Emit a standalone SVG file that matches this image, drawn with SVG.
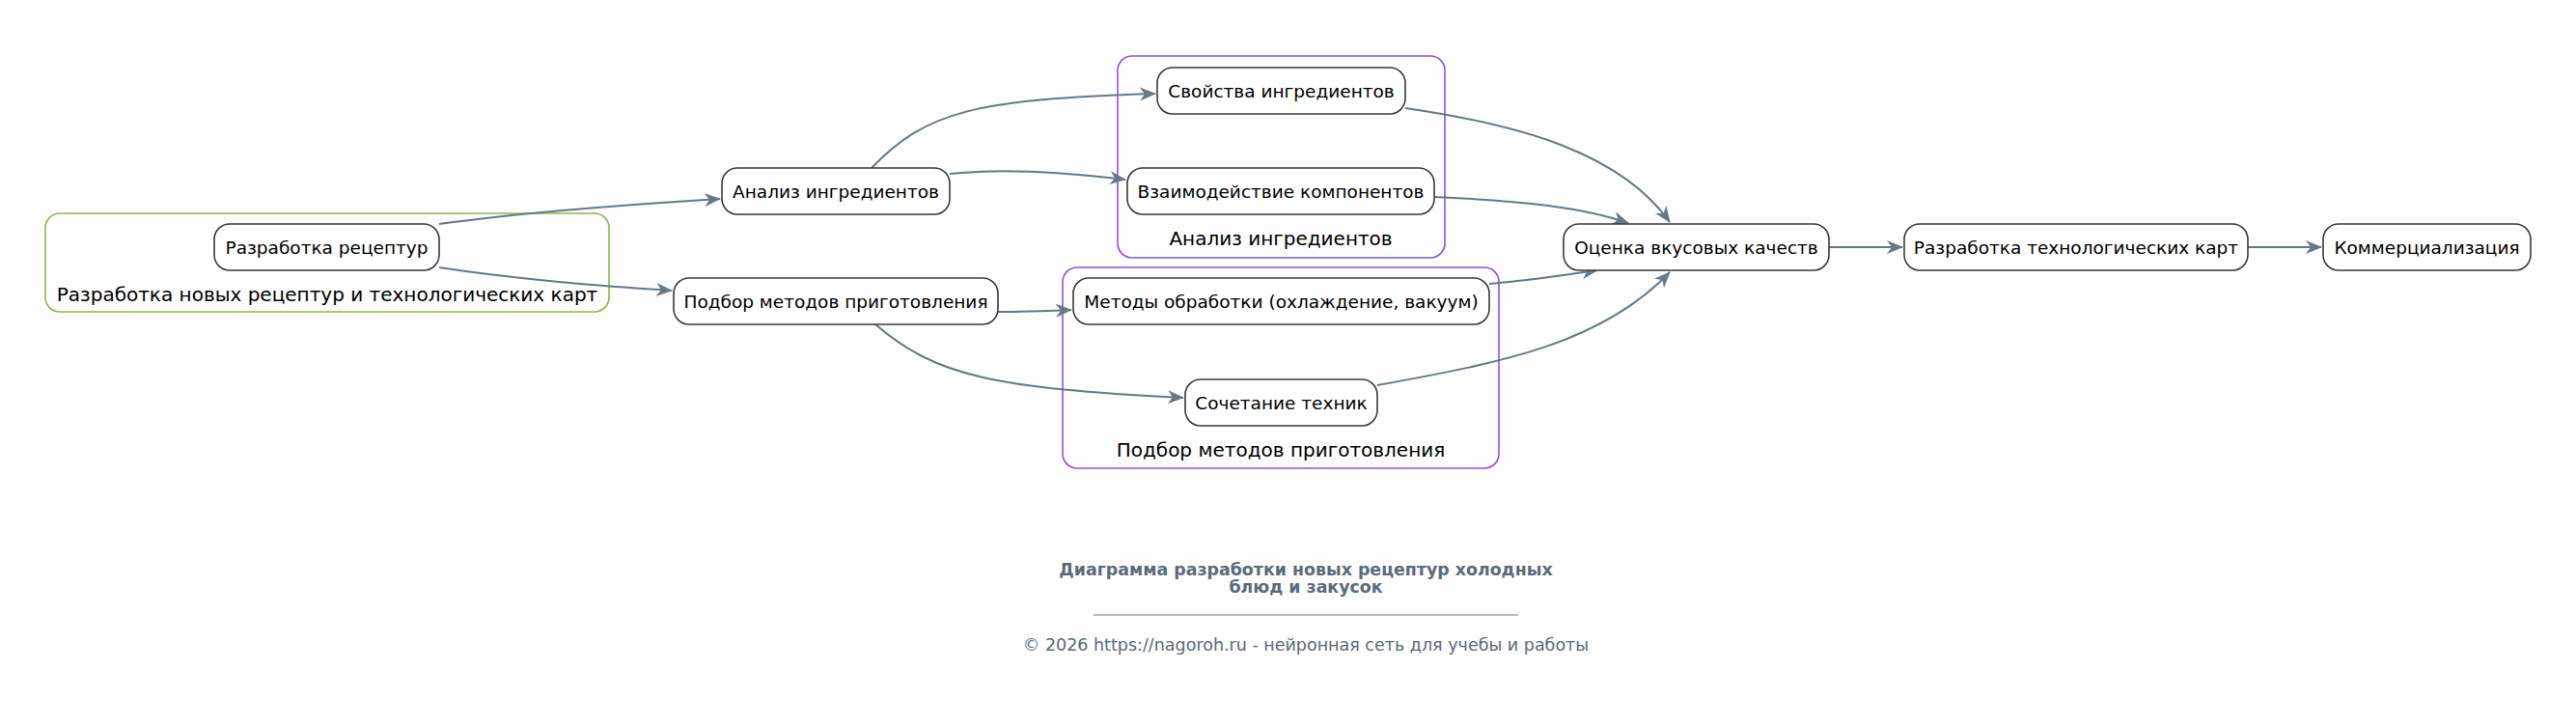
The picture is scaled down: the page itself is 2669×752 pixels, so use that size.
<svg xmlns="http://www.w3.org/2000/svg" width="2669" height="752" viewBox="0 0 2669 752">
<style>
.bg{fill:#fdfdfd}
.node rect{fill:#ffffff;stroke:#3a3a3a;stroke-width:1.6}
.node text{font-family:"DejaVu Sans",sans-serif;font-size:18.5px;fill:#000;text-anchor:middle}
.cl rect{fill:none;stroke-width:1.6}
.cl text{font-family:"DejaVu Sans",sans-serif;font-size:20px;fill:#000;text-anchor:middle}
.green rect{stroke:#8db84a}
.purple rect{stroke:#8c55d8}
.edges path{fill:none;stroke:#677889;stroke-width:2;marker-end:url(#arr)}
.title{font-family:"DejaVu Sans",sans-serif;font-size:17.4px;font-weight:bold;fill:#5c6b7a;text-anchor:middle}
.foot{font-family:"DejaVu Sans",sans-serif;font-size:17.5px;fill:#5c6b7a;text-anchor:middle}
</style>
<defs>
<marker id="arr" viewBox="0 0 17 14" refX="16" refY="7" markerWidth="17" markerHeight="14" markerUnits="userSpaceOnUse" orient="auto">
<path d="M0,0 L17,7 L0,14 L5,7 Z" fill="#677889"/>
</marker>
</defs>
<rect class="bg" x="0" y="0" width="2669" height="752"/>

<g id="cluster-razrabotka" class="cl green">
<rect x="47" y="221" width="584" height="102" rx="15"/>
<text x="339" y="312">Разработка новых рецептур и технологических карт</text>
</g>
<g id="cluster-analiz" class="cl purple">
<rect x="1158" y="58" width="339" height="209" rx="15"/>
<text x="1327" y="254">Анализ ингредиентов</text>
</g>
<g id="cluster-podbor" class="cl purple">
<rect x="1101" y="277" width="452" height="208" rx="15"/>
<text x="1327" y="473">Подбор методов приготовления</text>
</g>

<g id="edges" class="edges">
<path d="M455,232 C540,220 650,212 746,206"/>
<path d="M455,277 C540,290 620,296 696,301"/>
<path d="M903,174 C960,115 1010,103 1197,97"/>
<path d="M984,180 C1040,174 1100,178 1166,186"/>
<path d="M1034,323 C1060,323 1085,322 1110,321"/>
<path d="M907,336 C970,390 1030,402 1226,412"/>
<path d="M1456,112 C1580,130 1680,160 1730,230"/>
<path d="M1486,204 C1580,208 1640,215 1687,231"/>
<path d="M1543,294 C1590,290 1620,285 1655,280"/>
<path d="M1427,399 C1560,375 1660,355 1730,282"/>
<path d="M1895,256 L1971,256"/>
<path d="M2329,256 L2405,256"/>
</g>

<g id="n-razrabotka-receptur" class="node"><rect x="222" y="232" width="233" height="48" rx="16"/><text x="338.5" y="262.5">Разработка рецептур</text></g>
<g id="n-analiz" class="node"><rect x="748" y="174" width="236" height="48" rx="16"/><text x="866" y="204.5">Анализ ингредиентов</text></g>
<g id="n-podbor" class="node"><rect x="698" y="288" width="336" height="48" rx="16"/><text x="866" y="318.5">Подбор методов приготовления</text></g>
<g id="n-svoistva" class="node"><rect x="1199" y="70" width="257" height="48" rx="16"/><text x="1327.5" y="100.5">Свойства ингредиентов</text></g>
<g id="n-vzaimodeistvie" class="node"><rect x="1168" y="174" width="318" height="48" rx="16"/><text x="1327" y="204.5">Взаимодействие компонентов</text></g>
<g id="n-metody" class="node"><rect x="1112" y="288" width="431" height="48" rx="16"/><text x="1327.5" y="318.5">Методы обработки (охлаждение, вакуум)</text></g>
<g id="n-sochetanie" class="node"><rect x="1228" y="393" width="199" height="48" rx="16"/><text x="1327.5" y="423.5">Сочетание техник</text></g>
<g id="n-ocenka" class="node"><rect x="1620" y="232" width="275" height="48" rx="16"/><text x="1757.5" y="262.5">Оценка вкусовых качеств</text></g>
<g id="n-tech-karty" class="node"><rect x="1973" y="232" width="356" height="48" rx="16"/><text x="2151" y="262.5">Разработка технологических карт</text></g>
<g id="n-kommerc" class="node"><rect x="2407" y="232" width="215" height="48" rx="16"/><text x="2514.5" y="262.5">Коммерциализация</text></g>

<g id="footer">
<text class="title" x="1353" y="596">Диаграмма разработки новых рецептур холодных</text>
<text class="title" x="1353" y="614">блюд и закусок</text>
<line x1="1133" y1="637" x2="1573" y2="637" stroke="#6d7a87" stroke-width="1.2"/>
<text class="foot" x="1353" y="674">© 2026 https://nagoroh.ru - нейронная сеть для учебы и работы</text>
</g>
</svg>
